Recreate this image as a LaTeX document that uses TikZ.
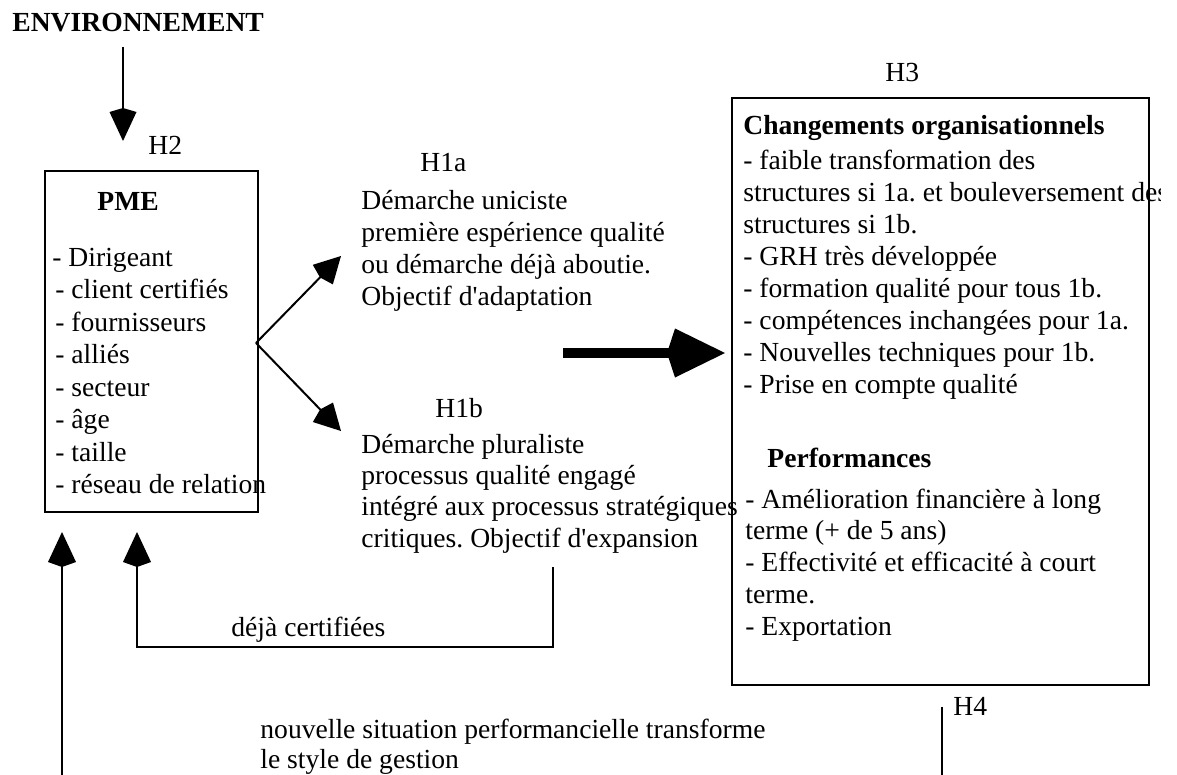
\documentclass[tikz,border=0pt]{standalone}
\usepackage{fontspec}
\setmainfont{Liberation Serif}
\usetikzlibrary{arrows.meta}
\frenchspacing
\begin{document}
\begin{tikzpicture}[x=0.5pt,y=-0.5pt,
  txt/.style={anchor=base west, inner sep=0pt, font=\fontsize{13.8}{16}\selectfont},
  btxt/.style={anchor=base west, inner sep=0pt, font=\fontsize{13.8}{16}\selectfont\bfseries},
  box/.style={draw, line width=1pt, inner sep=0pt},
  conn/.style={line width=1pt},
  tipenv/.style={conn, -{Kite[length=16.5pt,width=13.5pt,inset=2pt]}},
  tipfork/.style={conn, -{Kite[length=15pt,width=14pt,inset=2pt]}},
  tipup/.style={conn, -{Kite[length=17.5pt,width=14pt,inset=2.5pt]}},
  tipbig/.style={line width=5pt, -{Kite[length=29pt,width=24.5pt,inset=4pt]}}
]
\useasboundingbox (0,0) rectangle (1177,775);

% title
\node[btxt] (env) at (12,32) {ENVIRONNEMENT};

% boxes
\node[box, minimum width=106.5pt, minimum height=170.5pt] (pme) at (151.5,341.5) {};
\node[box, minimum width=208.5pt, minimum height=293.5pt] (h3) at (940.5,391.5) {};

% labels
\node[txt] (lh2) at (148,155) {H2};
\node[txt] (lh1a) at (420,172) {H1a};
\node[txt] (lh1b) at (435,417) {H1b};
\node[txt] (lh3) at (885,82) {H3};
\node[txt] (lh4) at (953,715) {H4};

% PME content
\node[btxt] (pmet) at (97,211) {PME};
\node[txt] (pme0) at (52,266) {- Dirigeant};
\foreach \t [count=\i] in {{- client certifiés},{- fournisseurs},{- alliés},{- secteur},{- âge},{- taille},{- réseau de relation}}
  \node[txt] (pme\i) at (55,{299+32.4*(\i-1)}) {\t};

% H1a / H1b
\foreach \t [count=\i] in {{Démarche uniciste},{première espérience qualité},{ou démarche déjà aboutie.},{Objectif d\textquotesingle adaptation}}
  \node[txt] (ha\i) at (361,{210+31.7*(\i-1)}) {\t};
\foreach \t [count=\i] in {{Démarche pluraliste},{processus qualité engagé},{intégré aux processus stratégiques},{critiques. Objectif d\textquotesingle expansion}}
  \node[txt] (hb\i) at (361,{453+31.4*(\i-1)}) {\t};

% H3 content
\node[btxt] (cot) at (743,135) {Changements organisationnels};
\begin{scope}
\clip (0,0) rectangle (1160,775);
\foreach \t [count=\i] in {{- faible transformation des},{structures si 1a. et bouleversement des},{structures si 1b.},{- GRH très développée},{- formation qualité pour tous 1b.},{- compétences inchangées pour 1a.},{- Nouvelles techniques pour 1b.},{- Prise en compte qualité}}
  \node[txt] (co\i) at (743,{170+31.9*(\i-1)}) {\t};
\end{scope}
\node[btxt] (pft) at (767,467) {Performances};
\foreach \t [count=\i] in {{- Amélioration financière à long},{terme (+ de 5 ans)},{- Effectivité et efficacité à court},{terme.},{- Exportation}}
  \node[txt] (pf\i) at (745,{508+31.8*(\i-1)}) {\t};

% bottom texts
\node[txt] (dc) at (231,636) {déjà certifiées};
\node[txt] (ns1) at (260,738) {nouvelle situation performancielle transforme};
\node[txt] (ns2) at (260,768) {le style de gestion};

% coordinates
\coordinate (envS) at (123,47);
\coordinate (envT) at (123,141);
\coordinate (fork) at (256,343);
\coordinate (forkA) at (341,256);
\coordinate (forkB) at (341,431);
\coordinate (bigS) at (563,353);
\coordinate (bigT) at (725,353);
\coordinate (brTop) at (553,567);
\coordinate (brR) at (553,647);
\coordinate (brL) at (137,647);
\coordinate (brT) at (137,532);
\coordinate (lnB) at (62,775);
\coordinate (lnT) at (62,532);
\coordinate (h4T) at (942,707);
\coordinate (h4B) at (942,775);

% connectors
\draw[tipenv] (envS) -- (envT);
\draw[tipfork] (fork) -- (forkA);
\draw[tipfork] (fork) -- (forkB);
\draw[tipbig] (bigS) -- (bigT);
\draw[tipup] (brTop) -- (brR) -- (brL) -- (brT);
\draw[tipup] (lnB) -- (lnT);
\draw[conn] (h4T) -- (h4B);
\end{tikzpicture}
\end{document}
